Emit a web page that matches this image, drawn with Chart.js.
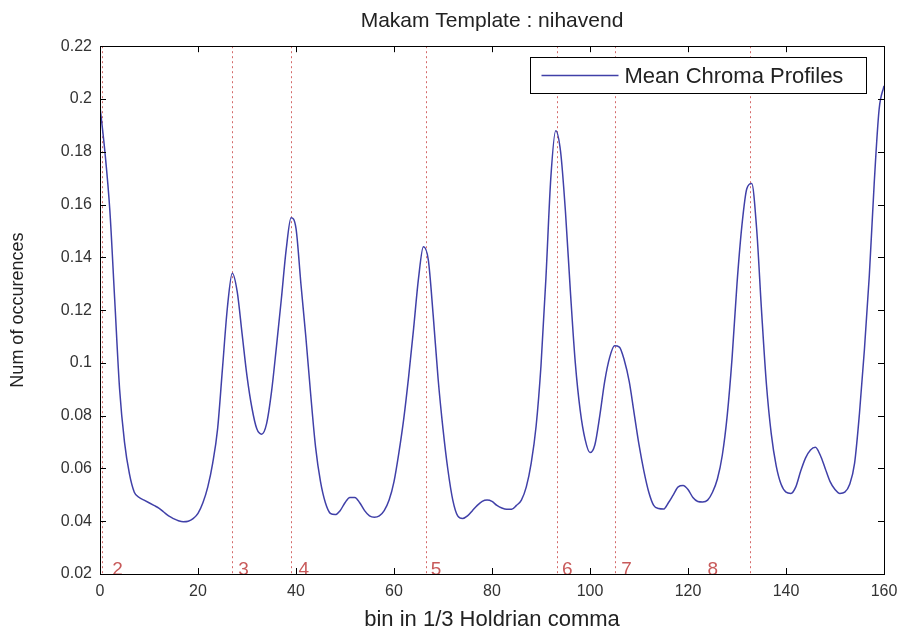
<!DOCTYPE html>
<html>
<head>
<meta charset="utf-8">
<script src="https://cdn.jsdelivr.net/npm/chart.js@4/dist/chart.umd.min.js"></script>
<style>
  html, body { margin: 0; padding: 0; background: #fff; }
  #wrap { width: 907px; height: 636px; }
</style>
</head>
<body>
<div id="wrap"><canvas id="c" width="907" height="636"></canvas></div>
<script>
// ---- data ----
const titleText = 'Makam Template : nihavend';
const xLabel = 'bin in 1/3 Holdrian comma';
const yLabel = 'Num of occurences';
const seriesName = 'Mean Chroma Profiles';

const bins = [
  0,1,2,3,4,5,6,7,8,9,10,11,12,13,14,15,16,17,18,19,20,
  21,22,23,24,25,26,27,28,29,30,31,32,33,34,35,36,37,38,39,40,
  41,42,43,44,45,46,47,48,49,50,51,52,53,54,55,56,57,58,59,60,
  61,62,63,64,65,66,67,68,69,70,71,72,73,74,75,76,77,78,79,80,
  81,82,83,84,85,86,87,88,89,90,91,92,93,94,95,96,97,98,99,100,
  101,102,103,104,105,106,107,108,109,110,111,112,113,114,115,116,117,118,119,120,
  121,122,123,124,125,126,127,128,129,130,131,132,133,134,135,136,137,138,139,140,
  141,142,143,144,145,146,147,148,149,150,151,152,153,154,155,156,157,158,159,160
];
const meanChroma = [
  0.197,0.180,0.158,0.124,0.090,0.070,0.058,0.051,0.049,0.048,0.047,
  0.046,0.045,0.0435,0.042,0.041,0.0402,0.0398,0.040,0.041,0.043,
  0.047,0.053,0.062,0.075,0.098,0.121,0.134,0.127,0.111,0.095,
  0.083,0.075,0.073,0.077,0.089,0.106,0.124,0.143,0.155,0.151,
  0.130,0.110,0.088,0.068,0.055,0.047,0.043,0.0425,0.044,0.047,
  0.049,0.049,0.047,0.044,0.042,0.0415,0.042,0.044,0.048,0.055,
  0.066,0.079,0.095,0.113,0.132,0.144,0.139,0.118,0.094,0.075,
  0.0595,0.048,0.042,0.041,0.042,0.044,0.046,0.0475,0.048,0.0475,
  0.046,0.045,0.0445,0.0445,0.046,0.048,0.053,0.062,0.076,0.099,
  0.132,0.170,0.188,0.180,0.157,0.127,0.100,0.082,0.071,0.066,
  0.069,0.080,0.093,0.102,0.1065,0.106,0.101,0.093,0.081,0.069,
  0.059,0.051,0.046,0.0448,0.0446,0.047,0.050,0.053,0.0535,0.052,
  0.049,0.0475,0.0473,0.048,0.051,0.056,0.065,0.080,0.102,0.130,
  0.152,0.166,0.168,0.151,0.120,0.092,0.073,0.061,0.054,0.051,
  0.0505,0.053,0.059,0.064,0.067,0.068,0.065,0.060,0.055,0.052,
  0.0505,0.051,0.054,0.062,0.081,0.105,0.133,0.168,0.196,0.205
];

// red dotted marker lines and their numbers
const markerLines = [0.5, 27.0, 39.0, 66.5, 93.3, 105.2, 132.6];
const markerNames = ['2', '3', '4', '5', '6', '7', '8'];
const markerLabelX = [2.5, 28.2, 40.5, 67.5, 94.3, 106.4, 124.0];

const xMin = 0, xMax = 160, xStep = 20;
const yMin = 0.02, yMax = 0.22, yStep = 0.02;

// ---- drawing ----
const FONT = '"Liberation Sans", Arial, Helvetica, sans-serif';
const lineColor = '#4040a8';

const matlabPlugin = {
  id: 'matlabDecor',
  beforeDatasetsDraw(chart) {
    const {ctx, chartArea: a, scales: {x}} = chart;
    ctx.save();
    ctx.strokeStyle = 'rgba(205,80,80,0.85)';
    ctx.lineWidth = 1;
    ctx.setLineDash([2, 3]);
    markerLines.forEach(v => {
      const px = Math.round(x.getPixelForValue(v)) + 0.5;
      ctx.beginPath();
      ctx.moveTo(px, a.top);
      ctx.lineTo(px, a.bottom);
      ctx.stroke();
    });
    ctx.setLineDash([]);
    ctx.fillStyle = '#c85a5a';
    ctx.font = '19px ' + FONT;
    ctx.textBaseline = 'middle';
    ctx.textAlign = 'left';
    markerNames.forEach((n, i) => {
      ctx.fillText(n, x.getPixelForValue(markerLabelX[i]), a.bottom - 4);
    });
    ctx.restore();
  },
  afterDatasetsDraw(chart) {
    const {ctx, chartArea: a, scales: {x, y}} = chart;
    ctx.save();
    ctx.strokeStyle = '#000';
    ctx.lineWidth = 1;
    // box
    ctx.strokeRect(Math.round(a.left) + 0.5, Math.round(a.top) + 0.5,
                   Math.round(a.right - a.left), Math.round(a.bottom - a.top));
    // inward ticks
    const tl = 6;
    ctx.beginPath();
    x.ticks.forEach(t => {
      const px = Math.round(x.getPixelForValue(t.value)) + 0.5;
      ctx.moveTo(px, a.bottom); ctx.lineTo(px, a.bottom - tl);
      ctx.moveTo(px, a.top); ctx.lineTo(px, a.top + tl);
    });
    y.ticks.forEach(t => {
      const py = Math.round(y.getPixelForValue(t.value)) + 0.5;
      ctx.moveTo(a.left, py); ctx.lineTo(a.left + tl, py);
      ctx.moveTo(a.right, py); ctx.lineTo(a.right - tl, py);
    });
    ctx.stroke();

    // legend box (top right, inside axes)
    const bx = 530.5, by = 57.5, bw = 336, bh = 36;
    ctx.fillStyle = '#fff';
    ctx.fillRect(bx, by, bw, bh);
    ctx.strokeStyle = '#000';
    ctx.strokeRect(bx, by, bw, bh);
    ctx.strokeStyle = lineColor;
    ctx.lineWidth = 1.5;
    ctx.beginPath();
    ctx.moveTo(bx + 11, by + bh / 2);
    ctx.lineTo(bx + 88, by + bh / 2);
    ctx.stroke();
    ctx.fillStyle = '#222';
    ctx.font = '22px ' + FONT;
    ctx.textBaseline = 'middle';
    ctx.textAlign = 'left';
    ctx.fillText(seriesName, bx + 94, by + bh / 2 + 1);
    ctx.restore();
  }
};

new Chart(document.getElementById('c'), {
  type: 'line',
  data: {
    datasets: [{
      label: seriesName,
      data: bins.map((b, i) => ({x: b, y: meanChroma[i]})),
      borderColor: lineColor,
      borderWidth: 1.5,
      pointRadius: 0,
      fill: false,
      cubicInterpolationMode: 'monotone'
    }]
  },
  options: {
    responsive: false,
    animation: false,
    devicePixelRatio: 1,
    layout: { padding: { top: 0, left: 0, right: 23, bottom: 0 } },
    plugins: {
      legend: { display: false },
      tooltip: { enabled: false },
      title: {
        display: true,
        text: titleText,
        fullSize: false,
        color: '#222',
        font: { family: FONT, size: 21, weight: 'normal' },
        padding: { top: 9, bottom: 12 }
      }
    },
    scales: {
      x: {
        type: 'linear',
        min: xMin, max: xMax,
        grid: { display: false, drawTicks: false },
        border: { display: false },
        ticks: {
          stepSize: xStep,
          padding: 8,
          color: '#333',
          font: { family: FONT, size: 16 },
          maxRotation: 0
        },
        title: {
          display: true,
          text: xLabel,
          color: '#222',
          font: { family: FONT, size: 22 },
          padding: { top: 0, bottom: 3 }
        },
        afterFit(scale) { scale.height = 62; }
      },
      y: {
        type: 'linear',
        min: yMin, max: yMax,
        grid: { display: false, drawTicks: false },
        border: { display: false },
        ticks: {
          stepSize: yStep,
          padding: 8,
          color: '#333',
          font: { family: FONT, size: 16 },
          callback: v => String(+v.toFixed(2))
        },
        title: {
          display: true,
          text: yLabel,
          color: '#222',
          font: { family: FONT, size: 18 },
          padding: { top: 7, bottom: 0 }
        },
        afterFit(scale) { scale.width = 100; }
      }
    }
  },
  plugins: [matlabPlugin]
});
</script>
</body>
</html>
